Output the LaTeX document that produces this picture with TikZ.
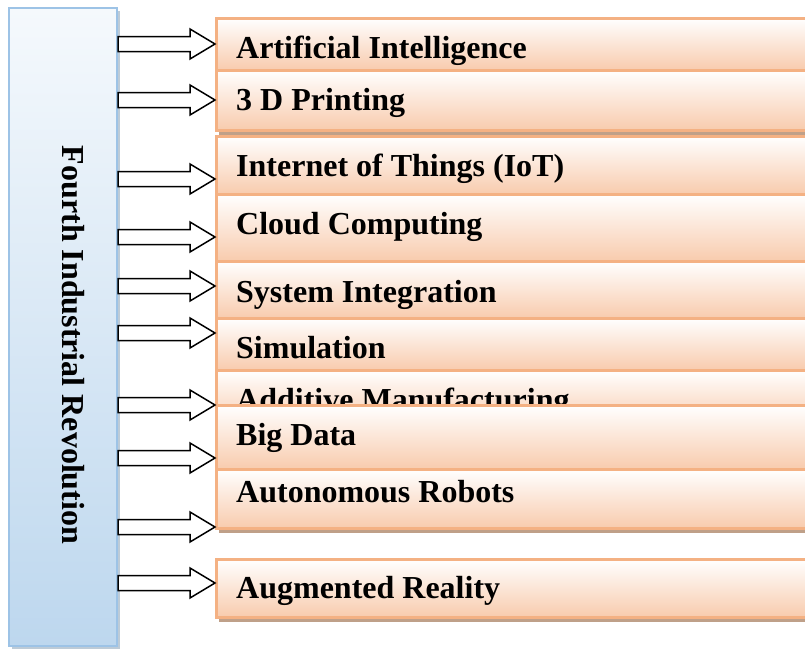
\documentclass[tikz,border=0pt]{standalone}
\usepackage{fontspec}
\setmainfont{Liberation Serif}
\usepackage{tikz}
\usetikzlibrary{calc}
\usetikzlibrary{shadows}

\definecolor{peach}{RGB}{248,203,173}
\definecolor{peachline}{RGB}{244,177,131}
\definecolor{peachshadow}{RGB}{191,160,137}
\definecolor{paleblue}{RGB}{189,215,238}
\definecolor{blueline}{RGB}{157,195,230}

\begin{document}
\begin{tikzpicture}[x=1pt,y=-1pt,
	frame box/.style={draw=blueline,line width=2pt,top color=paleblue!15,bottom color=paleblue,anchor=north west,inner sep=0pt,drop shadow={shadow xshift=3pt,shadow yshift=-3pt,fill=blueline!60!gray,opacity=.6}},
	item box/.style={draw=peachline,line width=2.5pt,top color=white,bottom color=peach,minimum width=640pt,anchor=north west,inner sep=0pt,drop shadow={shadow xshift=3pt,shadow yshift=-5pt,fill=peachshadow,opacity=1}},
	item text/.style={anchor=base west,inner sep=0pt,font=\fontsize{32}{38}\selectfont\bfseries},
	block arrow/.style={draw=black,fill=white,line width=1.5pt,line join=miter,
		to path={-- ($(\tikztostart)+(0,-7.5)$) -- ($(\tikztotarget)+(-25,-7.5)$) -- ($(\tikztotarget)+(-25,-15)$) -- (\tikztotarget) -- ($(\tikztotarget)+(-25,15)$) -- ($(\tikztotarget)+(-25,7.5)$) -- ($(\tikztostart)+(0,7.5)$) -- cycle}}]

	\path[use as bounding box] (0,0) rectangle (805,648);
	\clip (0,0) rectangle (805,648);

	\node[frame box,minimum width=108pt,minimum height=638pt] (frame) at (8,7) {};
	\node[item text,anchor=base,rotate=-90] (title) at (62,345) {Fourth Industrial Revolution};

	\node[item box,minimum height=52pt] (ai) at (215,17) {};
	\node[item text] (aitext) at (236,58) {Artificial Intelligence};
	\node[item box,minimum height=60pt] (print) at (215,69) {};
	\node[item text] (printtext) at (236,110) {3 D Printing};
	\node[item box,minimum height=58pt] (iot) at (215,135) {};
	\node[item text] (iottext) at (236,176) {Internet of Things (IoT)};
	\node[item box,minimum height=67pt] (cloud) at (215,193) {};
	\node[item text] (cloudtext) at (236,234) {Cloud Computing};
	\node[item box,minimum height=57pt] (sysint) at (215,260) {};
	\node[item text] (sysinttext) at (236,302) {System Integration};
	\node[item box,minimum height=52pt] (sim) at (215,317) {};
	\node[item text] (simtext) at (236,358) {Simulation};
	\node[item box,minimum height=56pt] (addm) at (215,369) {};
	\node[item text] (addmtext) at (236,410) {Additive Manufacturing};
	\node[item box,minimum height=64pt] (bigdata) at (215,404) {};
	\node[item text] (bigdatatext) at (236,445) {Big Data};
	\node[item box,minimum height=59pt] (robots) at (215,468) {};
	\node[item text] (robotstext) at (236,502) {Autonomous Robots};
	\node[item box,minimum height=58pt] (ar) at (215,558) {};
	\node[item text] (artext) at (236,598) {Augmented Reality};

	% arrow heights
	\coordinate (a1) at (0,44);
	\coordinate (a2) at (0,100);
	\coordinate (a3) at (0,179);
	\coordinate (a4) at (0,237);
	\coordinate (a5) at (0,286);
	\coordinate (a6) at (0,333);
	\coordinate (a7) at (0,405);
	\coordinate (a8) at (0,458);
	\coordinate (a9) at (0,527);
	\coordinate (a10) at (0,583);

	\path
	(frame.east |- a1) edge[block arrow] (ai.west |- a1)
	(frame.east |- a2) edge[block arrow] (print.west |- a2)
	(frame.east |- a3) edge[block arrow] (iot.west |- a3)
	(frame.east |- a4) edge[block arrow] (cloud.west |- a4)
	(frame.east |- a5) edge[block arrow] (sysint.west |- a5)
	(frame.east |- a6) edge[block arrow] (sim.west |- a6)
	(frame.east |- a7) edge[block arrow] (addm.west |- a7)
	(frame.east |- a8) edge[block arrow] (bigdata.west |- a8)
	(frame.east |- a9) edge[block arrow] (robots.west |- a9)
	(frame.east |- a10) edge[block arrow] (ar.west |- a10);

\end{tikzpicture}
\end{document}
